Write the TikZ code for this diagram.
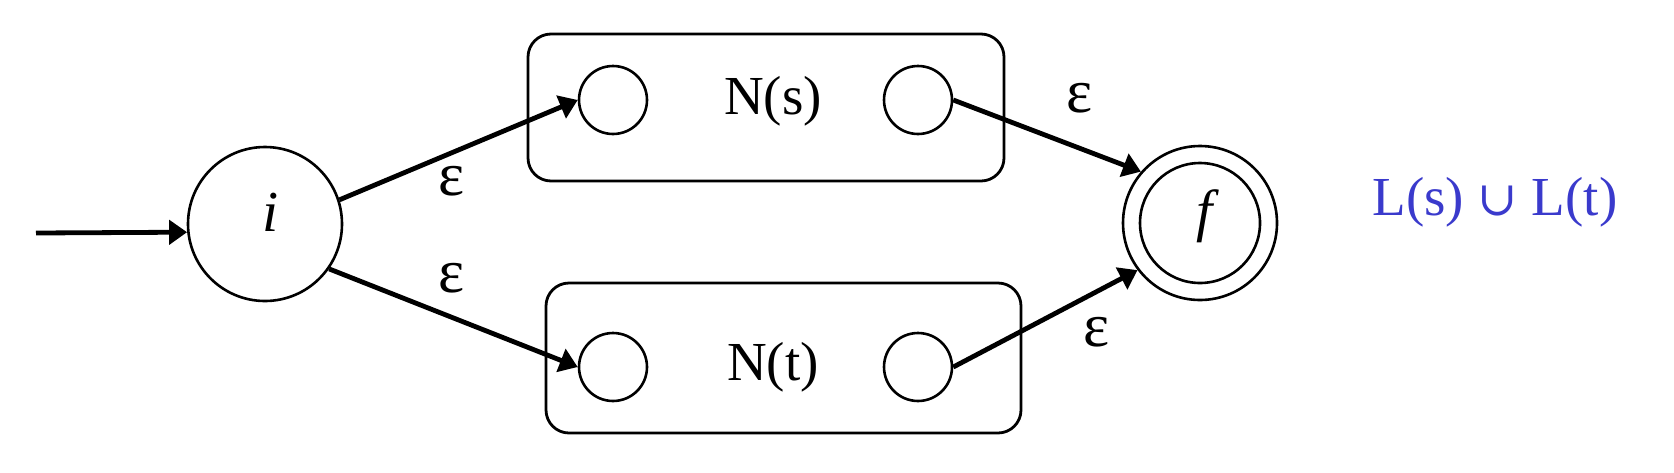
\documentclass[tikz,border=0pt]{standalone}
\usepackage{fontspec}
\setmainfont{Liberation Serif}
\newfontfamily\dvserif{DejaVu Serif}
\usetikzlibrary{arrows.meta}
\definecolor{lblue}{RGB}{58,58,204}
\begin{document}
\begin{tikzpicture}[x=0.5pt,y=-0.5pt,
  state/.style={circle,draw,line width=1.3pt,inner sep=0pt},
  box/.style={draw,rounded corners=11.5pt,line width=1.4pt,inner sep=0pt},
  edge/.style={line width=2.4pt,-{Triangle[length=9pt,width=12pt]}},
  lbl/.style={font=\fontsize{27.5}{33}\selectfont,inner sep=0pt},
  itlbl/.style={font=\fontsize{29}{34}\selectfont\itshape,inner sep=0pt},
  eps/.style={font=\fontsize{31}{36}\selectfont,inner sep=0pt}]
\useasboundingbox (0,0) rectangle (1674,472);
% boxes
\node[box,minimum width=238pt,minimum height=73.5pt] (Ns) at (766,107.5) {};
\node[box,minimum width=237.5pt,minimum height=75pt] (Nt) at (783.5,358) {};
% small states
\node[state,minimum size=34pt] (s1) at (613,100) {};
\node[state,minimum size=34pt] (s2) at (918,100) {};
\node[state,minimum size=34pt] (t1) at (613,367) {};
\node[state,minimum size=34pt] (t2) at (918,367) {};
% start and final states
\node[state,minimum size=77pt] (i) at (265,224) {};
\node[state,minimum size=77pt] (f) at (1200,223) {};
\node[state,minimum size=60pt] (fin) at (f) {};
% texts
\node[lbl,anchor=base] (Nslbl) at (773,114) {N(s)};
\node[lbl,anchor=base] (Ntlbl) at (773,380) {N(t)};
\node[itlbl,anchor=base] (ilbl) at (271,231) {i};
\node[itlbl,anchor=base] (flbl) at (1205,230) {f};
\node[lbl,anchor=base,text=lblue] (lang) at (1495,215) {L(s) {\dvserif\fontsize{24}{30}\selectfont ∪} L(t)};
\node[eps] (e1) at (452,181) {ε};
\node[eps] (e2) at (452,278) {ε};
\node[eps] (e3) at (1079,98) {ε};
\node[eps] (e4) at (1097,332) {ε};
% edges
\coordinate (start) at (36,233);
\draw[edge] (start) -- (i.186);
\draw[edge] (i.18) -- (s1.west);
\draw[edge] (i.-35) -- (t1.west);
\draw[edge] (s2.east) -- (f.139);
\draw[edge] (t2.east) -- (f.-143);
\end{tikzpicture}
\end{document}
